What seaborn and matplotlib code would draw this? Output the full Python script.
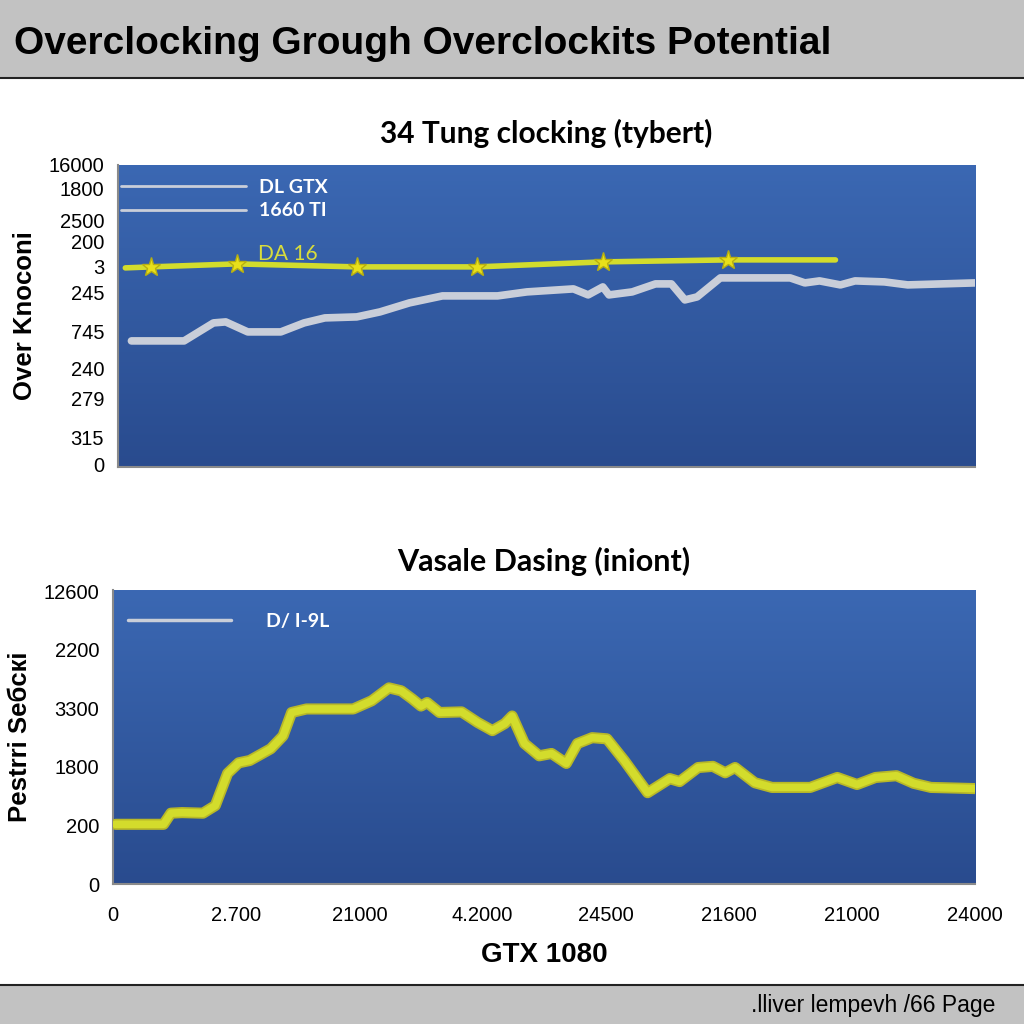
import numpy as np
import pandas as pd
import matplotlib
matplotlib.use("Agg")
import matplotlib.pyplot as plt
import seaborn as sns
from matplotlib.lines import Line2D
from matplotlib.patches import Rectangle

sns.set_style("white")
plt.rcParams['font.family'] = ['Liberation Sans', 'DejaVu Sans']
plt.rcParams['text.color'] = 'black'
plt.rcParams['axes.labelcolor'] = 'black'
plt.rcParams['xtick.labelcolor'] = 'black'
plt.rcParams['ytick.labelcolor'] = 'black'

# ---- datos ----
titulo = "Overclocking Grough Overclockits Potential"
pie = ".lliver lempevh /66 Page"

# grafico de arriba
top_title = "34 Tung clocking (tybert)"
top_ylabel = "Over Knoconi"
top_ytick_labels = ["16000", "1800", "2500", "200", "3", "245", "745", "240", "279", "315", "0"]
top_ytick_pos = [302, 278, 246, 225, 200, 174, 135, 98, 68, 29, 2]

gris_x = [0.11, 0.54, 0.66, 0.78, 0.88, 1.06, 1.33, 1.52, 1.69, 1.95, 2.14, 2.38, 2.65,
          3.10, 3.34, 3.72, 3.84, 3.96, 4.01, 4.20, 4.39, 4.52, 4.63, 4.73, 4.92, 5.49,
          5.61, 5.73, 5.90, 6.02, 6.26, 6.45, 7.00]
gris_y = [126, 126, 135, 144, 145, 135, 135, 144, 149, 150, 155, 164, 171,
          171, 175, 178, 172, 180, 172, 175, 183, 183, 167, 170, 189, 189,
          184, 186, 182, 186, 185, 182, 184]

da16_x = [0.06, 0.27, 0.97, 1.95, 2.93, 3.96, 4.98, 5.86]
da16_y = [199, 200, 203, 200, 200, 205, 207, 207]

# grafico de abajo
bot_title = "Vasale Dasing (iniont)"
bot_ylabel = "Pestrri Seбcкi"
bot_ytick_labels = ["0", "200", "1800", "3300", "2200", "12600"]
bot_xtick_labels = ["0", "2.700", "21000", "4.2000", "24500", "21600", "21000", "24000"]
bot_xlabel = "GTX 1080"

amar_x = [0.02, 0.41, 0.47, 0.56, 0.73, 0.83, 0.93, 1.02, 1.11, 1.28, 1.38, 1.45, 1.57,
          1.95, 2.10, 2.24, 2.34, 2.43, 2.50, 2.55, 2.65, 2.83, 2.96, 3.08, 3.18, 3.24,
          3.34, 3.46, 3.56, 3.68, 3.77, 3.89, 4.01, 4.15, 4.34, 4.52, 4.60, 4.75, 4.87,
          4.97, 5.05, 5.21, 5.35, 5.66, 5.88, 6.04, 6.19, 6.36, 6.50, 6.64, 7.00]
amar_y = [1.02, 1.02, 1.21, 1.22, 1.21, 1.34, 1.89, 2.07, 2.11, 2.31, 2.53, 2.93, 2.99,
          2.99, 3.13, 3.35, 3.30, 3.16, 3.04, 3.10, 2.93, 2.94, 2.76, 2.62, 2.74, 2.87,
          2.40, 2.19, 2.23, 2.06, 2.40, 2.50, 2.48, 2.11, 1.56, 1.80, 1.75, 1.99, 2.01,
          1.90, 1.99, 1.73, 1.65, 1.65, 1.82, 1.70, 1.82, 1.85, 1.72, 1.65, 1.63]

AZUL_ARRIBA = "#3b68b3"
AZUL_ABAJO = "#294b8e"
GRIS_LINEA = "#c9ced9"
AMARILLO = "#d3dc2c"


def fondo_degradado(ax):
    grad = np.linspace(0, 1, 256).reshape(-1, 1)
    cmap = matplotlib.colors.LinearSegmentedColormap.from_list("fondo", [AZUL_ARRIBA, AZUL_ABAJO])
    ax.imshow(grad, extent=[0, 1, 0, 1], transform=ax.transAxes, aspect="auto",
              cmap=cmap, zorder=0, origin="upper")


def ejes(ax):
    for s in ["top", "right"]:
        ax.spines[s].set_visible(False)
    for s in ["left", "bottom"]:
        ax.spines[s].set_color("#8a8a8a")
        ax.spines[s].set_linewidth(1.5)


fig = plt.figure(figsize=(10.24, 10.24), dpi=100)

# barras grises de arriba y abajo
fig.patches.append(Rectangle((0, 0.924), 1, 0.076, transform=fig.transFigure,
                             facecolor="#c2c2c2", edgecolor="none", zorder=0))
fig.add_artist(Line2D([0, 1], [0.924, 0.924], transform=fig.transFigure, color="#222222", lw=1.5))
fig.patches.append(Rectangle((0, 0), 1, 0.038, transform=fig.transFigure,
                             facecolor="#c2c2c2", edgecolor="none", zorder=0))
fig.add_artist(Line2D([0, 1], [0.038, 0.038], transform=fig.transFigure, color="#222222", lw=1.5))

fig.text(0.014, 0.957, titulo, fontsize=28, fontweight="bold", va="center", ha="left")
fig.text(0.972, 0.018, pie, fontsize=16.5, va="center", ha="right")

# ---- grafico 1 ----
ax1 = fig.add_axes([0.1152, 0.544, 0.837, 0.295])
fondo_degradado(ax1)
df_gris = pd.DataFrame({"x": gris_x, "y": gris_y})
df_da16 = pd.DataFrame({"x": da16_x, "y": da16_y})
sns.lineplot(data=df_gris, x="x", y="y", ax=ax1, color=GRIS_LINEA, lw=5.5, zorder=3,
             solid_joinstyle="round", solid_capstyle="round")
sns.lineplot(data=df_da16, x="x", y="y", ax=ax1, color=AMARILLO, lw=4, zorder=4)
ax1.plot(da16_x[1:-1], da16_y[1:-1], ls="none", marker="*", ms=14, color="#e8e01a",
         markeredgecolor="#b8b010", zorder=5)
ax1.set_xlim(0, 7)
ax1.set_ylim(0, 302)
ax1.set_xticks([])
ax1.set_yticks(top_ytick_pos)
ax1.set_yticklabels(top_ytick_labels)
ax1.tick_params(axis="y", direction="in", length=7, width=1.2, color="#8a8a8a",
                labelsize=14.5, pad=10)
ax1.set_xlabel("")
ax1.set_ylabel(top_ylabel, fontsize=18.5, fontweight="bold", labelpad=8)
ax1.set_title(top_title, fontsize=21.5, fontweight="bold", family="Lato", pad=16)
ejes(ax1)
h1 = [Line2D([], [], color=GRIS_LINEA, lw=2), Line2D([], [], color=GRIS_LINEA, lw=2)]
ax1.legend(h1, ["DL GTX", "1660 TI"], loc="upper left", bbox_to_anchor=(-0.005, 0.98),
           frameon=False, handlelength=6.4, handletextpad=0.65, labelspacing=0.35,
           borderaxespad=0, prop={"family": "Lato", "size": 14, "weight": "bold"},
           labelcolor="white")
ax1.text(0.163, 0.705, "DA 16", transform=ax1.transAxes, color="#d8dc3c", fontsize=15,
         family="Lato", va="center", ha="left", zorder=6)

# ---- grafico 2 ----
ax2 = fig.add_axes([0.1104, 0.1367, 0.842, 0.287])
fondo_degradado(ax2)
df_amar = pd.DataFrame({"x": amar_x, "y": amar_y})
sns.lineplot(data=df_amar, x="x", y="y", ax=ax2, color="#b8b828", lw=8, zorder=3,
             solid_joinstyle="round", solid_capstyle="round")
sns.lineplot(data=df_amar, x="x", y="y", ax=ax2, color=AMARILLO, lw=5.5, zorder=4,
             solid_joinstyle="round", solid_capstyle="round")
ax2.set_xlim(0, 7)
ax2.set_ylim(0, 5.02)
ax2.set_yticks(range(len(bot_ytick_labels)))
ax2.set_yticklabels(bot_ytick_labels)
ax2.set_xticks(range(len(bot_xtick_labels)))
ax2.set_xticklabels(bot_xtick_labels)
ax2.tick_params(axis="y", direction="in", length=7, width=1.2, color="#8a8a8a",
                labelsize=14.5, pad=10)
ax2.tick_params(axis="x", direction="out", length=8, width=1.2, color="#8a8a8a",
                labelsize=14.5, pad=8)
ax2.set_xlabel(bot_xlabel, fontsize=20, fontweight="bold", labelpad=12)
ax2.set_ylabel(bot_ylabel, fontsize=18.5, fontweight="bold", labelpad=8)
ax2.set_title(bot_title, fontsize=22, fontweight="bold", family="Lato", pad=14)
ejes(ax2)
h2 = [Line2D([], [], color=GRIS_LINEA, lw=2.5)]
ax2.legend(h2, ["D/ I-9L"], loc="upper left", bbox_to_anchor=(0.008, 0.95),
           frameon=False, handlelength=5.3, handletextpad=1.8, borderaxespad=0,
           prop={"family": "Lato", "size": 14, "weight": "bold"}, labelcolor="white")

plt.savefig("out.png", dpi=100)
